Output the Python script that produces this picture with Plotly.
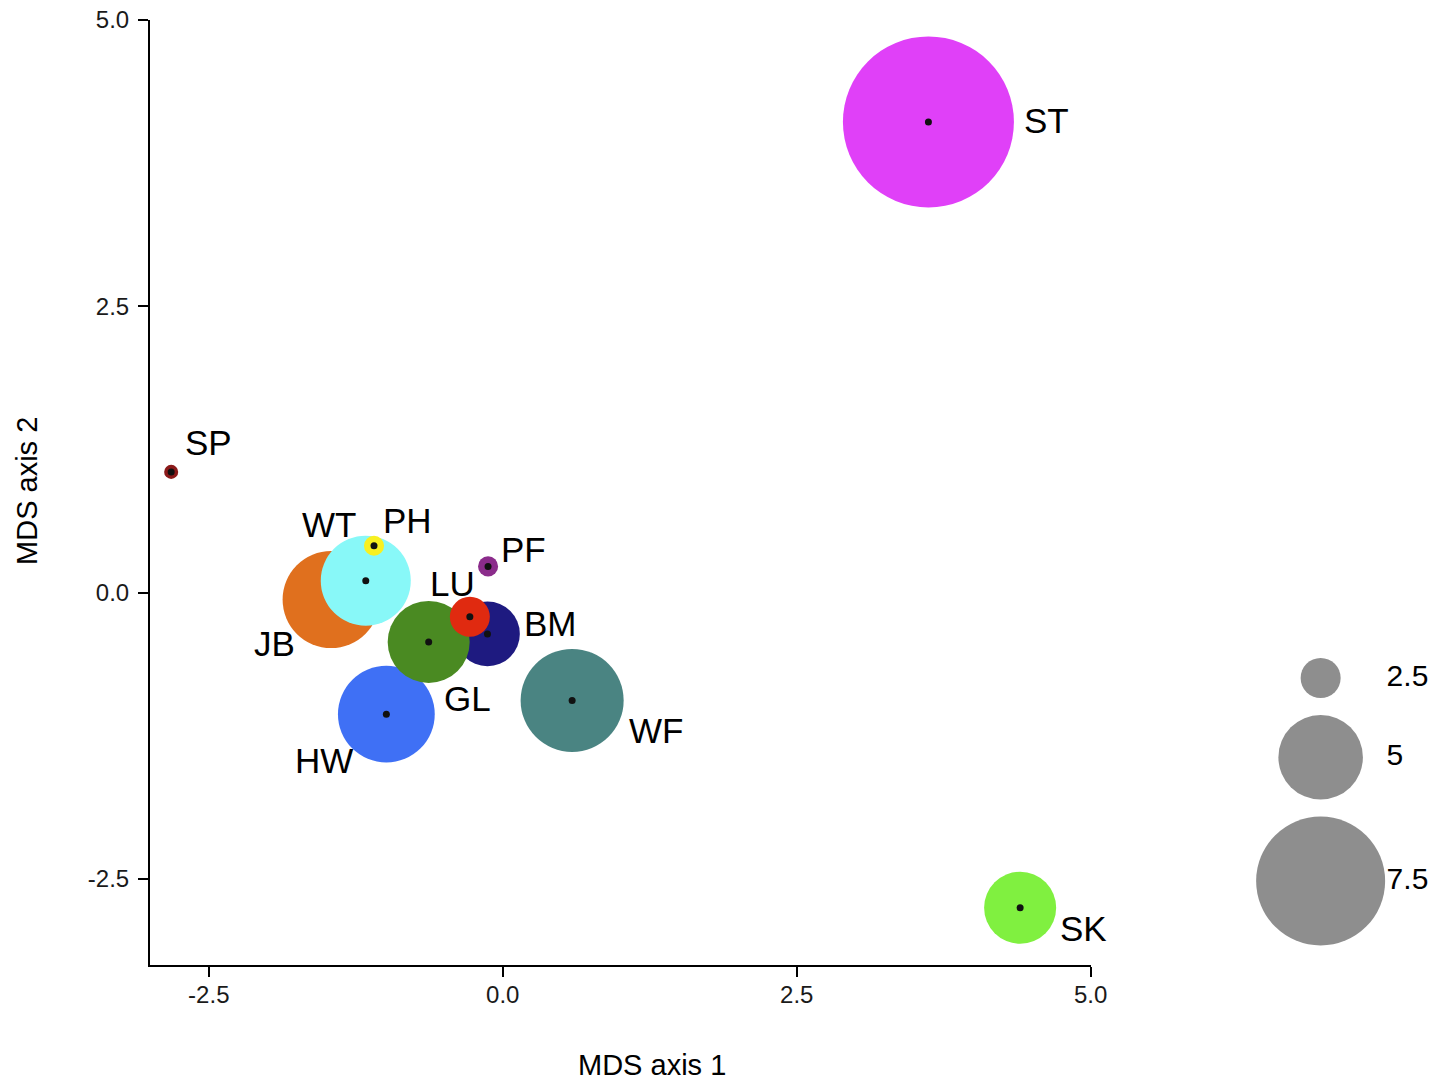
import plotly.graph_objects as go

# ---------------- data ----------------
sites = ["ST", "SK", "WF", "HW", "BM", "JB", "WT", "GL", "LU", "PH", "PF", "SP"]
mds1 = [3.62, 4.40, 0.59, -0.99, -0.13, -1.46, -1.165, -0.63, -0.28, -1.095, -0.125, -2.82]
mds2 = [4.11, -2.75, -0.94, -1.06, -0.36, -0.06, 0.105, -0.43, -0.21, 0.41, 0.23, 1.055]
size_val = [9.86, 4.30, 6.04, 5.69, 3.89, 5.70, 5.31, 4.86, 2.50, 1.38, 1.38, 1.04]
site_colors = ["#E040F8", "#80F040", "#4A8482", "#3F70F5", "#1E1A80", "#E0701E",
               "#88F8F8", "#4A8A22", "#E02A10", "#F8F020", "#8B2C8B", "#8B1A1A"]
legend_vals = [2.5, 5, 7.5]
legend_labels = ["2.5", "5", "7.5"]
x_ticks = [-2.5, 0.0, 2.5, 5.0]
x_ticklabels = ["-2.5", "0.0", "2.5", "5.0"]
y_ticks = [-2.5, 0.0, 2.5, 5.0]
y_ticklabels = ["-2.5", "0.0", "2.5", "5.0"]

# ---------------- styling ----------------
FONT = "Liberation Sans, Arial, sans-serif"
W, H = 1452, 1080
XS = 1.013                     # horizontal compensation for the capture
P_LEFT = 148 * XS
P_RIGHT_MAIN = 1089 * XS
P_TOP, P_BOTTOM = 20, 965
ML = round(P_LEFT)
MT = P_TOP
MB = H - P_BOTTOM
MR = 2
PW = W - ML - MR
PH_ = H - MT - MB


def px_x(p):
    """page pixel x -> paper fraction"""
    return (p - ML) / PW


def px_y(p):
    """page pixel y -> paper fraction"""
    return (P_BOTTOM - p) / PH_


def size_px(v):
    return 17.8 * v - 4.5


# label offsets in px (dx, dy up) relative to point centre
label_off = {
    "ST": (117, 1), "SP": (37, 29), "WT": (-36, 56), "PH": (33, 25),
    "PF": (35, 17), "LU": (-17, 33), "BM": (62, 10), "JB": (-56, -44),
    "GL": (38, -57), "HW": (-62, -46), "WF": (83, -30), "SK": (63, -21),
}

fig = go.Figure()

for s, x, y, v, c in zip(sites, mds1, mds2, size_val, site_colors):
    fig.add_trace(go.Scatter(
        x=[x], y=[y], mode="markers",
        marker=dict(size=size_px(v), color=c, line=dict(width=0), opacity=1),
        hoverinfo="skip", showlegend=False))
    fig.add_trace(go.Scatter(
        x=[x], y=[y], mode="markers",
        marker=dict(size=7, color="#111111", line=dict(width=0), opacity=1),
        hoverinfo="skip", showlegend=False))

annotations = []
for s, x, y in zip(sites, mds1, mds2):
    dx, dy = label_off[s]
    annotations.append(dict(
        x=x, y=y, xref="x", yref="y", text=s, showarrow=False,
        xshift=dx * XS, yshift=dy, font=dict(family=FONT, size=35, color="black"),
        xanchor="center", yanchor="middle"))

# size legend on an overlay axis expressed in page pixels
leg_d = [size_px(v) for v in legend_vals]
leg_y = [678]
for i in range(1, len(leg_d)):
    leg_y.append(leg_y[-1] + (leg_d[i - 1] + leg_d[i]) / 2 + 17)
leg_x = [1319 * XS] * len(legend_vals)

fig.add_trace(go.Scatter(
    x=leg_x, y=leg_y, mode="markers", xaxis="x2", yaxis="y2",
    marker=dict(size=leg_d, color="#8E8E8E", line=dict(width=0), opacity=1),
    hoverinfo="skip", showlegend=False))
fig.add_trace(go.Scatter(
    x=[1385 * XS] * len(legend_vals), y=leg_y, mode="text", xaxis="x2", yaxis="y2",
    text=legend_labels, textposition="middle right",
    textfont=dict(family=FONT, size=30, color="black"),
    hoverinfo="skip", showlegend=False))

# axis titles
annotations.append(dict(
    x=px_x(650 * XS), y=px_y(1065), xref="paper", yref="paper",
    text="MDS axis 1", showarrow=False, xanchor="center", yanchor="middle",
    font=dict(family=FONT, size=29, color="black")))
annotations.append(dict(
    x=px_x(25 * XS), y=px_y(491), xref="paper", yref="paper",
    text="MDS axis 2", showarrow=False, xanchor="center", yanchor="middle",
    textangle=-90, font=dict(family=FONT, size=29, color="black")))

axis_common = dict(
    showgrid=False, zeroline=False, showline=True, linecolor="black",
    linewidth=2, ticks="outside", ticklen=10, tickwidth=2, tickcolor="black",
    ticklabeloverflow="allow",
    tickfont=dict(family=FONT, size=24, color="#1A1A1A"))

fig.update_layout(
    width=W, height=H,
    margin=dict(l=ML, r=MR, t=MT, b=MB),
    paper_bgcolor="white", plot_bgcolor="white",
    xaxis=dict(range=[-3.0, 5.0], domain=[0, px_x(P_RIGHT_MAIN)], tickvals=x_ticks,
               ticktext=x_ticklabels, anchor="y", ticklabelstandoff=-3, **axis_common),
    yaxis=dict(range=[-3.25, 5.0], domain=[0, 1], tickvals=y_ticks,
               ticktext=y_ticklabels, anchor="x", ticklabelstandoff=4, **axis_common),
    xaxis2=dict(range=[1230 * XS, 1450], domain=[px_x(1230 * XS), px_x(1450)],
                visible=False, anchor="y2"),
    yaxis2=dict(range=[P_BOTTOM, P_TOP], domain=[0, 1], visible=False, anchor="x2"),
    annotations=annotations,
    showlegend=False,
)

fig.write_html(
    "out.html",
    config={"displayModeBar": False},
    post_script=("document.documentElement.style.overflow='hidden';"
                 "document.body.style.margin='0';"
                 "document.body.style.overflow='hidden';"),
)
